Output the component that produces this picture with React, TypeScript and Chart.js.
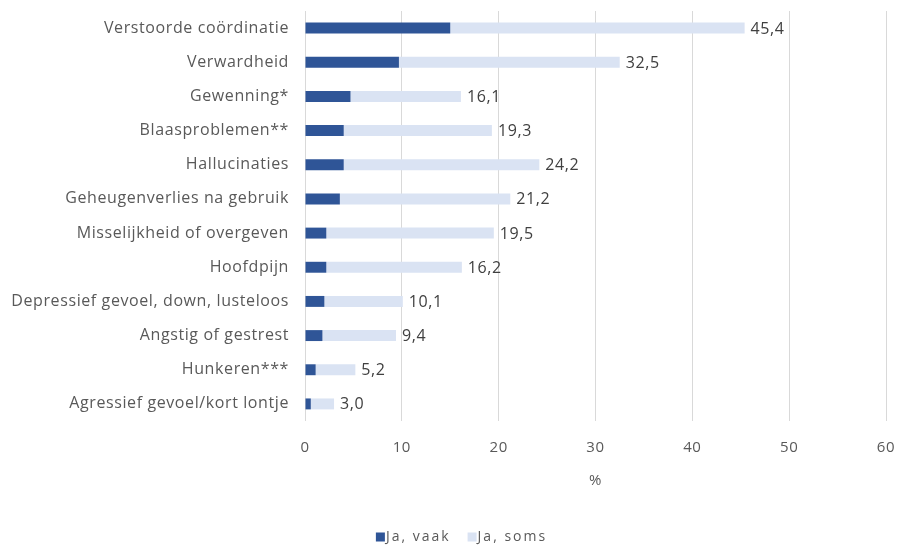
import React, { useEffect, useRef } from "react";
import { Chart, registerables } from "chart.js";

Chart.register(...registerables);

const categories = [
  "Verstoorde coördinatie",
  "Verwardheid",
  "Gewenning*",
  "Blaasproblemen**",
  "Hallucinaties",
  "Geheugenverlies na gebruik",
  "Misselijkheid of overgeven",
  "Hoofdpijn",
  "Depressief gevoel, down, lusteloos",
  "Angstig of gestrest",
  "Hunkeren***",
  "Agressief gevoel/kort lontje",
];

const jaVaak = [15.0, 9.7, 4.7, 4.0, 4.0, 3.6, 2.2, 2.2, 2.0, 1.8, 1.1, 0.6];
const jaSoms = [30.4, 22.8, 11.4, 15.3, 20.2, 17.6, 17.3, 14.0, 8.1, 7.6, 4.1, 2.4];
const totals = [45.4, 32.5, 16.1, 19.3, 24.2, 21.2, 19.5, 16.2, 10.1, 9.4, 5.2, 3.0];
const xTicks = [0, 10, 20, 30, 40, 50, 60];
const seriesNames = ["Ja, vaak", "Ja, soms"];
const seriesColors = ["#2F5597", "#DAE3F3"];

const FONT = "'Open Sans', 'Liberation Sans', sans-serif";

const spacingPlugin = {
  id: "spacing",
  beforeDraw(chart: any) {
    chart.ctx.letterSpacing = "0.6px";
  },
};

const totalLabels = {
  id: "totalLabels",
  afterDatasetsDraw(chart: any) {
    const ctx = chart.ctx;
    const xScale = chart.scales.x;
    const meta = chart.getDatasetMeta(1);
    ctx.save();
    ctx.letterSpacing = "0.6px";
    ctx.font = `16px ${FONT}`;
    ctx.fillStyle = "#404040";
    ctx.textAlign = "left";
    ctx.textBaseline = "middle";
    totals.forEach((t, i) => {
      const el = meta.data[i];
      const x = xScale.getPixelForValue(t) + 6;
      ctx.fillText(t.toFixed(1).replace(".", ","), x, el.y + 1);
    });
    ctx.restore();
  },
};

const customLegend = {
  id: "customLegend",
  afterDraw(chart: any) {
    const ctx = chart.ctx;
    ctx.save();
    ctx.letterSpacing = "2px";
    ctx.font = `14px ${FONT}`;
    ctx.textBaseline = "middle";
    ctx.textAlign = "left";
    const box = 9;
    const gapBoxText = 1;
    const gapItems = 17;
    const widths = seriesNames.map((n) => ctx.measureText(n).width);
    const total =
      widths.reduce((a: number, w: number) => a + w + box + gapBoxText, 0) +
      gapItems * (seriesNames.length - 1);
    let x = 461.5 - total / 2;
    const y = 537;
    seriesNames.forEach((n, i) => {
      ctx.fillStyle = seriesColors[i];
      ctx.fillRect(x, y - box / 2, box, box);
      x += box + gapBoxText;
      ctx.fillStyle = "#595959";
      ctx.fillText(n, x, y);
      x += widths[i] + gapItems;
    });
    ctx.restore();
  },
};

export default function App() {
  const ref = useRef<HTMLCanvasElement | null>(null);

  useEffect(() => {
    if (!ref.current) return;
    const chart = new Chart(ref.current, {
      type: "bar",
      data: {
        labels: categories,
        datasets: seriesNames.map((name, i) => ({
          label: name,
          data: i === 0 ? jaVaak : jaSoms,
          backgroundColor: seriesColors[i],
          barPercentage: 0.32,
          categoryPercentage: 1,
        })),
      },
      options: {
        indexAxis: "y",
        animation: false,
        responsive: false,
        maintainAspectRatio: false,
        layout: { padding: { left: 0, right: 15, top: 11, bottom: 56 } },
        scales: {
          x: {
            stacked: true,
            min: 0,
            max: 60,
            afterBuildTicks: (scale: any) => {
              scale.ticks = xTicks.map((v) => ({ value: v }));
            },
            afterFit: (scale: any) => {
              scale.height = 69;
              scale.paddingLeft = 0;
              scale.paddingRight = 0;
            },
            grid: { color: "#D9D9D9", drawTicks: false, lineWidth: 1 },
            border: { display: false },
            ticks: {
              padding: 18,
              color: "#595959",
              font: { family: FONT, size: 15 },
            },
            title: {
              display: true,
              text: "%",
              color: "#595959",
              font: { family: FONT, size: 15 },
              padding: { top: 14, bottom: 0 },
            },
          },
          y: {
            stacked: true,
            grid: { display: false, drawTicks: false },
            border: { display: false },
            ticks: {
              padding: 16,
              color: "#595959",
              font: { family: FONT, size: 16 },
              autoSkip: false,
            },
            afterFit: (scale: any) => {
              scale.width = 305;
              scale.paddingTop = 0;
              scale.paddingBottom = 0;
            },
          },
        },
        plugins: {
          legend: { display: false },
          tooltip: { enabled: false },
        },
      },
      plugins: [spacingPlugin, totalLabels, customLegend],
    });
    return () => chart.destroy();
  }, []);

  return (
    <div style={{ position: "fixed", left: 0, top: 0, width: 901, height: 546, background: "#fff" }}>
      <canvas ref={ref} width={901} height={546} style={{ display: "block" }} />
    </div>
  );
}
